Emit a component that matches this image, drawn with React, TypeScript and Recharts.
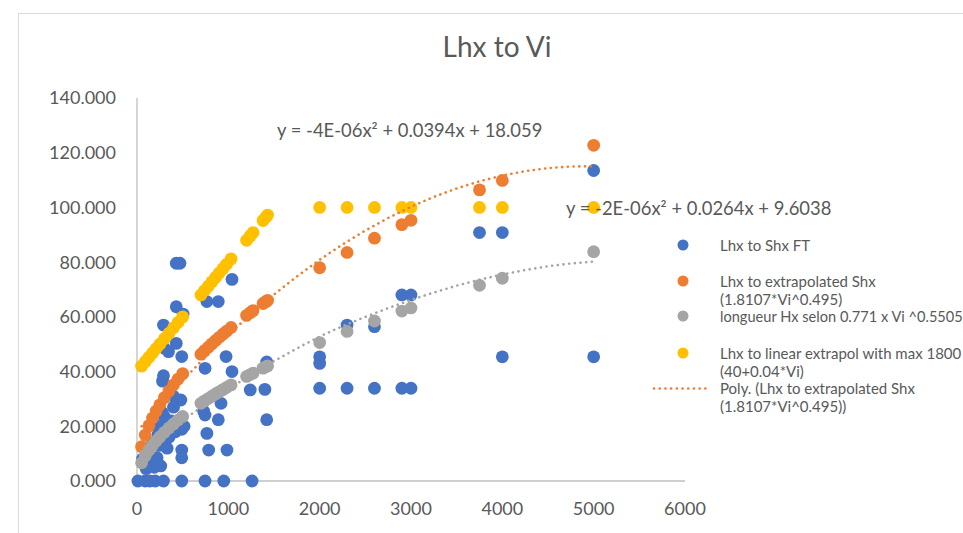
import React from 'react';
import { ScatterChart, Scatter, XAxis, YAxis } from 'recharts';

// Vi values shared by the three derived series
const viExtrap = [50, 90, 130, 170, 210, 250, 300, 350, 400, 450, 500, 700, 740, 780, 820, 860, 900, 940, 980, 1030, 1200, 1240, 1270, 1380, 1410, 1430, 2000, 2300, 2600, 2900, 3000, 3750, 4000, 5000];
// Lhx to extrapolated Shx (1.8107*Vi^0.495)
const shxExtrapolated = [12.56, 16.8, 20.15, 23.01, 25.55, 27.85, 30.48, 32.9, 35.15, 37.25, 39.25, 46.36, 47.66, 48.92, 50.14, 51.34, 52.51, 53.65, 54.77, 56.13, 60.54, 61.55, 62.27, 64.88, 65.57, 66.03, 77.95, 83.54, 88.77, 93.7, 95.29, 106.41, 109.86, 122.7];
// longueur Hx selon 0.771 x Vi ^0.5505
const hxSelon = [6.64, 9.18, 11.24, 13.03, 14.64, 16.11, 17.81, 19.39, 20.87, 22.27, 23.59, 28.4, 29.28, 30.14, 30.98, 31.81, 32.61, 33.4, 34.18, 35.13, 38.21, 38.91, 39.42, 41.26, 41.75, 42.08, 50.61, 54.67, 58.48, 62.11, 63.27, 71.54, 74.12, 83.82];
// Lhx to linear extrapol with max 1800 (40+0.04*Vi)
const linearExtrapol = [42, 43.6, 45.2, 46.8, 48.4, 50, 52, 54, 56, 58, 60, 68, 69.6, 71.2, 72.8, 74.4, 76, 77.6, 79.2, 81.2, 88, 89.6, 90.8, 95.2, 96.4, 97.2, 100, 100, 100, 100, 100, 100, 100, 100];

// Lhx to Shx FT
const ftVi = [10, 90, 140, 200, 290, 490, 745, 950, 1260,
  430, 470, 1040, 765, 890, 430, 505, 290, 430, 345, 300, 490, 975, 745, 1040, 290, 280, 1240, 1400, 1420, 480, 920, 745, 730, 300, 1420, 890, 490, 765, 490, 490, 785, 985, 400,
  60, 80, 120, 150, 190, 200, 220, 240, 260, 277, 290, 310, 330, 350, 380, 400, 420, 450, 515, 230, 170, 130, 100,
  2000, 2000, 2000, 2300, 2300, 2600, 2600, 2900, 2900, 3000, 3000, 3750, 4000, 4000, 5000, 5000];
const ftLhx = [0, 0, 0, 0, 0, 0, 0, 0, 0,
  79.6, 79.6, 73.7, 65.6, 65.6, 63.7, 61, 57, 50.3, 47.3, 48.5, 45.5, 45.5, 41.2, 40, 38.5, 36.5, 33.3, 33.5, 43.5, 29.6, 28.4, 24.1, 25.5, 23.5, 22.4, 22.4, 18.9, 17.4, 11.3, 8.5, 11.3, 11.3, 31,
  8, 6.5, 10, 6, 5, 20.5, 8.5, 13, 5.5, 25, 16, 20, 12, 16, 22, 27, 18, 21, 20, 17, 14, 12, 4.5,
  45.4, 43, 33.9, 57, 33.9, 56.4, 33.9, 68, 33.9, 68, 33.9, 90.8, 90.8, 45.4, 113.5, 45.4];

// Polynomial trendlines
const polyVi = [50, 250, 500, 750, 1000, 1250, 1500, 1750, 2000, 2250, 2500, 2750, 3000, 3250, 3500, 3750, 4000, 4250, 4500, 4750, 5000];
const polyOrange = [20.02, 27.66, 36.76, 45.36, 53.46, 61.06, 68.16, 74.76, 80.86, 86.46, 91.56, 96.16, 100.26, 103.86, 106.96, 109.56, 111.66, 113.26, 114.36, 114.96, 115.06];
const polyGray = [10.92, 16.05, 22.2, 28.05, 33.6, 38.85, 43.8, 48.45, 52.8, 56.6, 60.0, 63.2, 66.2, 68.9, 71.4, 73.6, 75.5, 77.1, 78.5, 79.5, 80.2];

const xTicks = [0, 1000, 2000, 3000, 4000, 5000, 6000];
const yTicks = [0, 20, 40, 60, 80, 100, 120, 140];

const title = 'Lhx to Vi';
const eqOrange = 'y = -4E-06x² + 0.0394x + 18.059';
const eqGray = 'y = -2E-06x² + 0.0264x + 9.6038';

const BLUE = '#4472C4';
const ORANGE = '#ED7D31';
const GRAY = '#A5A5A5';
const YELLOW = '#FFC000';
const TXT = '#595959';
const FONT = 'Lato, "Open Sans", sans-serif';

const dot = (color: string) => (props: any) => (
  <circle cx={props.cx} cy={props.cy} r={6.4} fill={color} />
);
const noShape = () => <g />;

export default function App() {
  const ftData = ftVi.map((x, i) => ({ x, y: ftLhx[i] }));
  const orangeData = viExtrap.map((x, i) => ({ x, y: shxExtrapolated[i] }));
  const grayData = viExtrap.map((x, i) => ({ x, y: hxSelon[i] }));
  const yellowData = viExtrap.map((x, i) => ({ x, y: linearExtrapol[i] }));
  const polyOData = polyVi.map((x, i) => ({ x, y: polyOrange[i] }));
  const polyGData = polyVi.map((x, i) => ({ x, y: polyGray[i] }));

  const dotted = (c: string) => ({ stroke: c, strokeWidth: 2.6, strokeDasharray: '0.1 5.6', strokeLinecap: 'round' as const, fill: 'none' });

  const legendText = { fontFamily: FONT, fontSize: 15, fill: TXT };

  return (
    <div style={{ position: 'absolute', left: 0, top: 0, width: 963, height: 533, background: '#fff', overflow: 'hidden' }}>
      <div style={{ position: 'absolute', left: 18, top: 13, width: 1000, height: 600, border: '1px solid #D9D9D9' }} />
      <div style={{ position: 'absolute', left: 0, top: 0 }}>
        <ScatterChart width={963} height={533} margin={{ top: 98, right: 278, bottom: 0, left: 0 }}>
          <XAxis type="number" dataKey="x" domain={[0, 6000]} ticks={xTicks} height={52} tickSize={0} tickMargin={21}
            axisLine={{ stroke: '#BFBFBF', strokeWidth: 1.3 }} tickLine={false}
            tick={{ fill: TXT, fontSize: 18, fontFamily: FONT }} interval={0} />
          <YAxis type="number" dataKey="y" domain={[0, 140]} ticks={yTicks} width={137} tickSize={0} tickMargin={21}
            axisLine={{ stroke: '#BFBFBF', strokeWidth: 1.3 }} tickLine={false}
            tick={{ fill: TXT, fontSize: 18, fontFamily: FONT }} interval={0}
            tickFormatter={(v: number) => v.toFixed(3)} />
          <Scatter data={ftData} fill={BLUE} shape={dot(BLUE)} isAnimationActive={false} />
          <Scatter data={orangeData} fill={ORANGE} shape={dot(ORANGE)} isAnimationActive={false} />
          <Scatter data={grayData} fill={GRAY} shape={dot(GRAY)} isAnimationActive={false} />
          <Scatter data={yellowData} fill={YELLOW} shape={dot(YELLOW)} isAnimationActive={false} />
          <Scatter data={polyOData} line={dotted(ORANGE)} lineType="joint" shape={noShape} isAnimationActive={false} />
          <Scatter data={polyGData} line={dotted(GRAY)} lineType="joint" shape={noShape} isAnimationActive={false} />
        </ScatterChart>
      </div>
      <svg width={963} height={533} style={{ position: 'absolute', left: 0, top: 0, pointerEvents: 'none' }}>
        <text x={497} y={57} textAnchor="middle" fontFamily={FONT} fontSize={28} fill={TXT}>{title}</text>
        <text x={277} y={137} fontFamily={FONT} fontSize={18.4} fill={TXT}>{eqOrange}</text>
        <text x={566} y={215} fontFamily={FONT} fontSize={18.4} fill={TXT}>{eqGray}</text>

        <circle cx={683} cy={245} r={5.5} fill={BLUE} />
        <text x={720} y={250.5} {...legendText}>Lhx to Shx FT</text>

        <circle cx={683} cy={281} r={5.5} fill={ORANGE} />
        <text x={720} y={286.5} {...legendText}>Lhx to extrapolated Shx</text>
        <text x={720} y={305} {...legendText}>(1.8107*Vi^0.495)</text>

        <circle cx={683} cy={316} r={5.5} fill={GRAY} />
        <text x={720} y={321.5} {...legendText} fontSize={14.6}>longueur Hx selon 0.771 x Vi ^0.5505</text>

        <circle cx={683} cy={353} r={5.5} fill={YELLOW} />
        <text x={720} y={358.5} {...legendText}>Lhx to linear extrapol with max 1800</text>
        <text x={720} y={377} {...legendText}>(40+0.04*Vi)</text>

        <line x1={654} y1={388.5} x2={709} y2={388.5} {...dotted(ORANGE)} />
        <text x={720} y={393.5} {...legendText}>Poly. (Lhx to extrapolated Shx</text>
        <text x={720} y={412} {...legendText}>(1.8107*Vi^0.495))</text>
      </svg>
    </div>
  );
}
